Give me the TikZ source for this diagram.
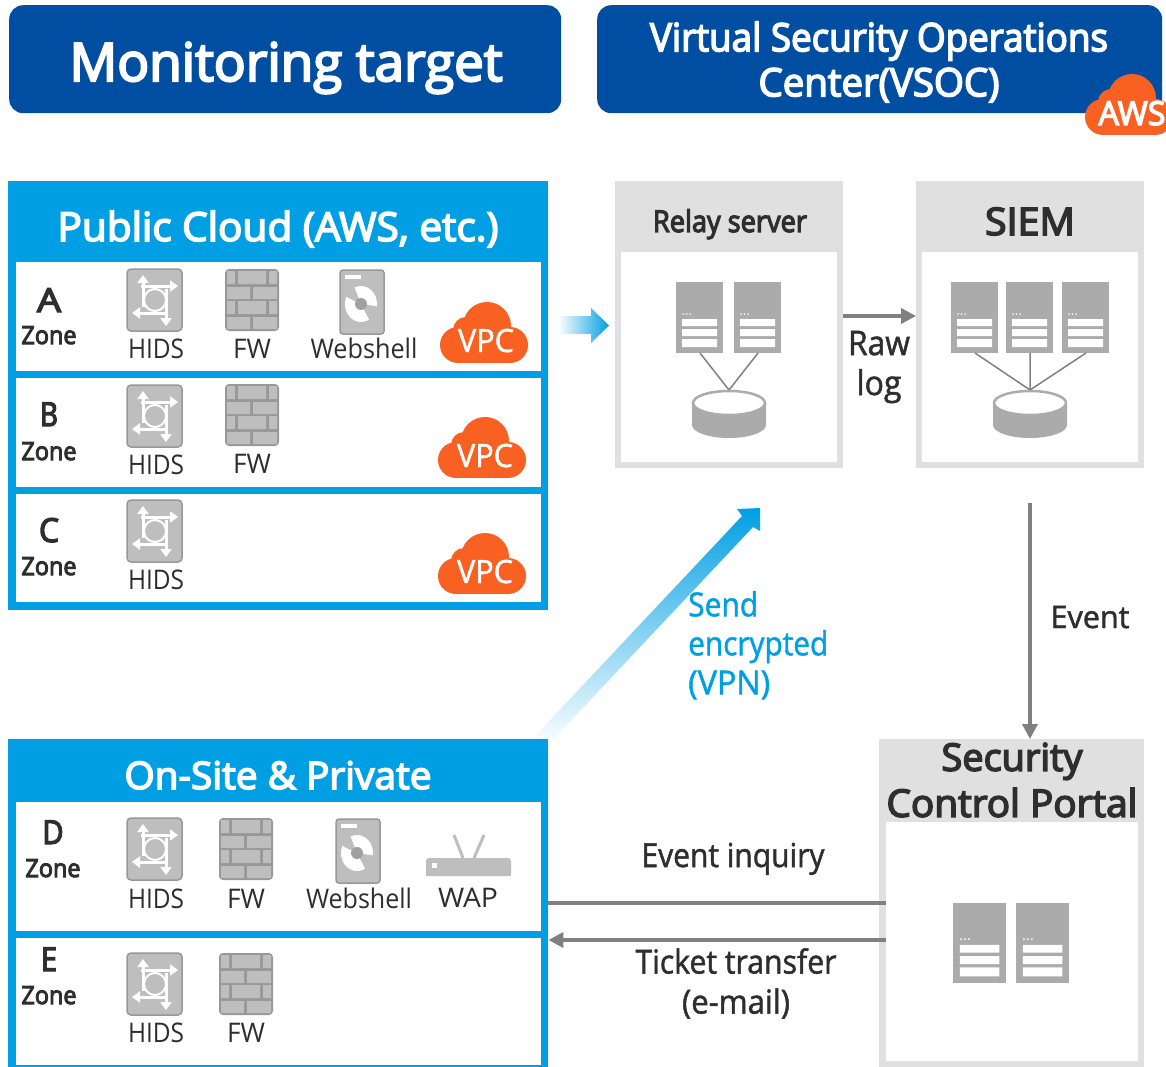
\documentclass[tikz,border=0pt]{standalone}
\usepackage{fontspec}
\usepackage{graphicx}
\setmainfont{Open Sans}
\newfontfamily\semifont[FakeBold=4]{Open Sans}
\newfontfamily\lightbold[FakeBold=1.5]{Open Sans}
\usetikzlibrary{arrows.meta,calc}
\definecolor{navy}{HTML}{004EA2}
\definecolor{sky}{HTML}{009FE3}
\definecolor{frame}{HTML}{E0E0E0}
\definecolor{ink}{HTML}{2E2E2E}
\definecolor{icon}{HTML}{BEBEBE}
\definecolor{iconedge}{HTML}{989898}
\definecolor{srv}{HTML}{ABABAB}
\definecolor{link}{HTML}{808080}
\definecolor{orange}{HTML}{F96122}
\newcommand\fitw[2]{\resizebox{#1pt}{\height}{#2}}
\newcommand\sz[1]{\fontsize{#1}{#1}\selectfont}
\newcommand\rbox[7][]{\node[#1,fill=#7,draw=none,inner sep=0pt,anchor=north west,minimum width=#4pt,minimum height=#5pt] (#6) at (#2,#3) {};}
\tikzset{
  lab/.style={anchor=base,inner sep=0pt,text=ink},
  multi/.style={align=center,inner sep=0pt,text=ink},
  conn/.style={draw=link,line width=3.5pt},
  tip/.style={-{Triangle[length=15pt,width=15pt]}},
  cloudicon/.pic={
    \fill[orange] (18,43) circle (18) (47,24) circle (24) (70,43) circle (18) (26,28) circle (13);
    \fill[orange] (18,32) rectangle (70,61);
  },
  hidsicon/.pic={
    \draw[fill=icon,draw=iconedge,line width=1.5pt,rounded corners=4pt] (0,0) rectangle (55,62);
    \begin{scope}[white,line width=3pt,-{Triangle[length=8pt,width=11pt]}]
      \draw (16,38) -- (16,6);
      \draw (14,17) -- (51,17);
      \draw (39,20) -- (39,57);
      \draw (41,44) -- (5,44);
    \end{scope}
    \draw[white,fill=icon,line width=2pt] (28,31) circle (11);
  },
  fwicon/.pic={
    \fill[iconedge,rounded corners=4pt] (0,0) rectangle (54,62);
    \foreach \y in {2,32}{
      \fill[icon] (2,\y) rectangle (10,\y+13) (13,\y) rectangle (41,\y+13) (44,\y) rectangle (52,\y+13);
      \fill[icon] (2,\y+16) rectangle (25,\y+28) (28,\y+16) rectangle (52,\y+28);
    }
  },
  webicon/.pic={
    \draw[fill=icon,draw=iconedge,line width=1.5pt,rounded corners=3pt] (0,0) rectangle (44,64);
    \fill[white] (5,5) rectangle (21,9);
    \fill[white] (21,34) ellipse (16 and 18);
    \fill[icon] (21,34) -- (13.5,15) -- (4,25.8) -- cycle (21,34) -- (41,37) -- (31,53) -- cycle;
    \fill[iconedge!80!icon] (21,34) circle (6);
  },
  wapicon/.pic={
    \fill[icon,rounded corners=3pt] (0,46) -- (0,28) -- (85,28) -- (85,46) -- cycle;
    \fill[icon] (0,38) rectangle (85,46);
    \draw[icon,line width=3pt] (37,28) -- (28,5) (48,28) -- (58,5);
    \fill[white] (6,33) rectangle (11,38);
  },
  srvicon/.pic={
    \fill[srv] (0,0) rectangle (47,71);
    \fill[white!85!srv] (7,32) circle (1) (10.5,32) circle (1) (14,32) circle (1);
    \fill[white] (6,37) rectangle (41,44) (6,47) rectangle (41,54) (6,57) rectangle (41,65);
  },
  dbicon/.pic={
    \fill[srv] (-37,13) -- (-37,35) arc[start angle=180,end angle=0,x radius=37,y radius=13] -- (37,13) -- cycle;
    \draw[srv,fill=white,line width=2.5pt] (0,13) ellipse (36 and 12);
  },
}
\begin{document}
\begin{tikzpicture}[x=1pt,y=-1pt]
\useasboundingbox (0,0) rectangle (1166,1067);
% headers
\node[fill=navy,rounded corners=14pt,minimum width=552pt,minimum height=108pt,anchor=north west,inner sep=0pt] (hleft) at (9,5) {};
\node[fill=navy,rounded corners=14pt,minimum width=565pt,minimum height=108pt,anchor=north west,inner sep=0pt] (hright) at (597,5) {};
\node[lab,text=white,font=\semifont\sz{53}] (tmon) at (286,81) {\fitw{433}{Monitoring target}};
\node[multi,text=white,font=\semifont\fontsize{39}{45}\selectfont] (tvsoc) at (879,62) {\fitw{458}{Virtual Security Operations}\\\fitw{241}{Center(VSOC)}};
\begin{scope}
  \clip (0,0) rectangle (1166,1067);
  \pic at (1085,74) {cloudicon};
\end{scope}
\node[lab,text=white,font=\semifont\sz{33}] (taws) at (1132,125) {\fitw{67}{AWS}};

% public cloud group
\rbox{8}{181}{540}{429}{pub}{sky}
\rbox{16}{262}{525}{109}{za}{white}
\rbox{16}{378}{525}{109}{zb}{white}
\rbox{16}{494}{525}{108}{zc}{white}
\node[lab,text=white,font=\semifont\sz{40}] (tpub) at (278,241) {\fitw{441}{Public Cloud (AWS, etc.)}};
\node[lab,font=\semifont\sz{33}] (ta) at (49,312) {\fitw{24}{A}};
\node[lab,font=\semifont\sz{25}] (tza) at (49,344) {\fitw{55}{Zone}};
\node[lab,font=\semifont\sz{33}] (tb) at (49,426) {\fitw{18}{B}};
\node[lab,font=\semifont\sz{25}] (tzb) at (49,460) {\fitw{55}{Zone}};
\node[lab,font=\semifont\sz{33}] (tc) at (49,542) {\fitw{20}{C}};
\node[lab,font=\semifont\sz{25}] (tzc) at (49,575) {\fitw{55}{Zone}};
\pic at (127,269) {hidsicon};
\pic at (225,269) {fwicon};
\pic at (340,270) {webicon};
\pic at (440,302) {cloudicon};
\pic at (127,385) {hidsicon};
\pic at (225,384) {fwicon};
\pic at (438,417) {cloudicon};
\pic at (127,500) {hidsicon};
\pic at (438,533) {cloudicon};
\node[lab,font=\sz{27}] (h1) at (156,358) {\fitw{56}{HIDS}};
\node[lab,font=\sz{27}] (f1) at (252,358) {\fitw{38}{FW}};
\node[lab,font=\sz{27}] (w1) at (364,358) {\fitw{107}{Webshell}};
\node[lab,font=\sz{27}] (h2) at (156,474) {\fitw{56}{HIDS}};
\node[lab,font=\sz{27}] (f2) at (252,473) {\fitw{38}{FW}};
\node[lab,font=\sz{27}] (h3) at (156,589) {\fitw{56}{HIDS}};
\node[lab,text=white,font=\lightbold\sz{32}] (v1) at (486,352) {\fitw{56}{VPC}};
\node[lab,text=white,font=\lightbold\sz{32}] (v2) at (485,467) {\fitw{56}{VPC}};
\node[lab,text=white,font=\lightbold\sz{32}] (v3) at (485,583) {\fitw{56}{VPC}};

% gradient arrows
\shade[left color=white,middle color=sky!75!white,right color=sky] (558,316) -- (591,316) -- (591,308) -- (609,325.5) -- (591,343) -- (591,334) -- (558,334) -- cycle;
\shade[shading angle=-45,bottom color=white,middle color=sky!80!white,top color=sky] (536,735) -- (742,516) -- (737,509) -- (760,508) -- (760,531) -- (753,527) -- (547,746) -- cycle;

% on-site group
\rbox{8}{739}{540}{328}{onsite}{sky}
\rbox{16}{802}{525}{129}{zd}{white}
\rbox{16}{938}{525}{127}{ze}{white}
\node[lab,text=white,font=\semifont\sz{38}] (tons) at (278,789) {\fitw{307}{On-Site \& Private}};
\node[lab,font=\semifont\sz{33}] (td) at (53,844) {\fitw{21}{D}};
\node[lab,font=\semifont\sz{25}] (tzd) at (53,877) {\fitw{55}{Zone}};
\node[lab,font=\semifont\sz{33}] (te) at (49,971) {\fitw{16}{E}};
\node[lab,font=\semifont\sz{25}] (tze) at (49,1004) {\fitw{55}{Zone}};
\pic at (127,818) {hidsicon};
\pic at (219,818) {fwicon};
\pic at (336,819) {webicon};
\pic at (426,830) {wapicon};
\pic at (127,953) {hidsicon};
\pic at (219,953) {fwicon};
\node[lab,font=\sz{27}] (h4) at (156,908) {\fitw{56}{HIDS}};
\node[lab,font=\sz{27}] (f4) at (246,908) {\fitw{38}{FW}};
\node[lab,font=\sz{27}] (w4) at (359,908) {\fitw{106}{Webshell}};
\node[lab,font=\sz{27}] (wap) at (468,907) {\fitw{60}{WAP}};
\node[lab,font=\sz{27}] (h5) at (156,1042) {\fitw{56}{HIDS}};
\node[lab,font=\sz{27}] (f5) at (246,1042) {\fitw{38}{FW}};

% relay
\rbox{615}{181}{228}{287}{relay}{frame}
\rbox{621}{252}{216}{210}{relayin}{white}
\node[lab,font=\semifont\sz{30}] (trelay) at (730,232) {\fitw{154}{Relay server}};
\pic (s1) at (676,282) {srvicon};
\pic (s2) at (734,282) {srvicon};
\coordinate (rdb) at (729,390);
\coordinate (rs1) at (700,353);
\coordinate (rs2) at (758,353);
\draw[link,line width=1.5pt] (rs1) -- (rdb) -- (rs2);
\pic at (729,390) {dbicon};

% siem
\rbox{916}{181}{228}{287}{siem}{frame}
\rbox{922}{252}{216}{210}{siemin}{white}
\node[lab,font=\semifont\sz{38}] (tsiem) at (1030,235) {\fitw{90}{SIEM}};
\pic at (951,282) {srvicon};
\pic at (1006,282) {srvicon};
\pic at (1062,282) {srvicon};
\coordinate (sdb) at (1030,390);
\coordinate (ss1) at (975,353);
\coordinate (ss2) at (1030,353);
\coordinate (ss3) at (1086,353);
\draw[link,line width=1.5pt] (ss1) -- (sdb) -- (ss3) (ss2) -- (sdb);
\pic at (1030,390) {dbicon};

% portal
\rbox{879}{739}{265}{328}{portal}{frame}
\rbox{886}{822}{252}{239}{portalin}{white}
\node[multi,font=\semifont\fontsize{38}{46}\selectfont] (tportal) at (1012,780) {\fitw{141}{Security}\\\fitw{251}{Control Portal}};
\pic[scale=1.13] at (953,903) {srvicon};
\pic[scale=1.13] at (1016,903) {srvicon};

% connectors
\coordinate (rawy) at (0,316);
\draw[conn,tip] (relay.east |- rawy) -- (siem.west |- rawy);
\node[multi,font=\lightbold\fontsize{34}{40}\selectfont] (traw) at (879,367) {\fitw{62}{Raw}\\\fitw{45}{log}};
\coordinate (evs) at (1030,503);
\draw[conn,tip] (evs) -- (evs |- portal.north);
\node[lab,font=\lightbold\sz{31}] (tev) at (1090,628) {\fitw{79}{Event}};
\node[multi,align=left,text=sky,font=\lightbold\fontsize{33}{39}\selectfont,anchor=north west] (tsend) at (688,591) {\fitw{70}{Send}\\\fitw{140}{encrypted}\\\fitw{82}{(VPN)}};
\coordinate (y1) at (0,903);
\coordinate (y2) at (0,940);
\draw[conn] (portalin.west |- y1) -- (onsite.east |- y1);
\draw[conn,tip] (portalin.west |- y2) -- (onsite.east |- y2);
\node[lab,font=\lightbold\sz{33}] (tinq) at (733,867) {\fitw{183}{Event inquiry}};
\node[multi,font=\lightbold\fontsize{33}{40}\selectfont] (ttick) at (736,983.5) {\fitw{201}{Ticket transfer}\\\fitw{108}{(e-mail)}};
\end{tikzpicture}
\end{document}
